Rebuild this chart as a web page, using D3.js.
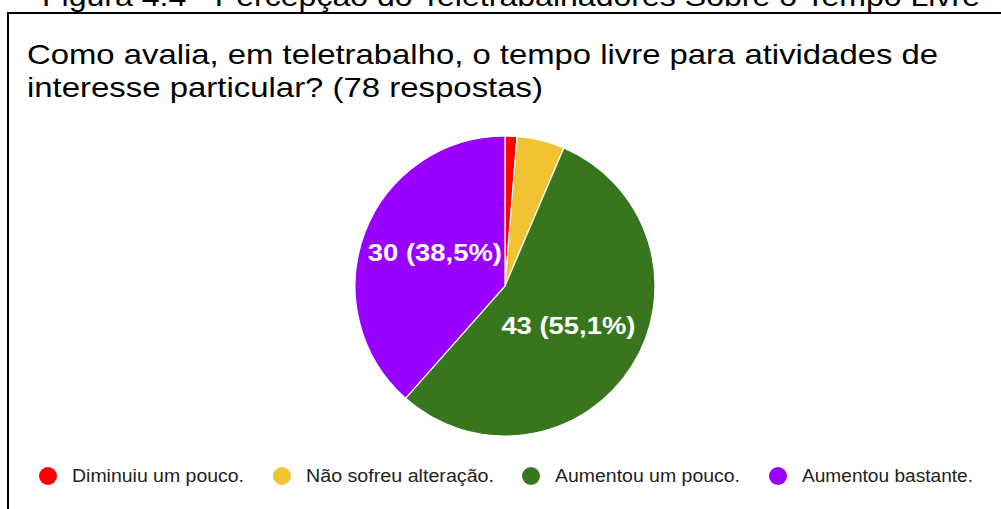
<!DOCTYPE html>
<html>
<head>
<meta charset="utf-8">
<script src="https://cdn.jsdelivr.net/npm/d3@7"></script>
<style>
  body { margin: 0; background: #fff; }
  svg { display: block; font-family: "Liberation Sans", Arial, sans-serif; }
</style>
</head>
<body>
<svg></svg>
<script>
var width = 1001;
var height = 509;

var categories = ["Diminuiu um pouco.", "Não sofreu alteração.", "Aumentou um pouco.", "Aumentou bastante."];
var counts = [1, 4, 43, 30];
var colors = ["#ff0000", "#f1c232", "#38761d", "#9900ff"];
var figureTitle = "Figura 4.4 - Percepção do Teletrabalhadores Sobre o Tempo Livre";
var titleLines = ["Como avalia, em teletrabalho, o tempo livre para atividades de", "interesse particular? (78 respostas)"];

var svg = d3.select("svg")
  .attr("width", width)
  .attr("height", height);

// the source image is stretched sideways, so texts get a fixed length
function stretch(sel, len) {
  sel.attr("textLength", len).attr("lengthAdjust", "spacingAndGlyphs");
}

// figure caption, cut by the top of the image
svg.append("text")
  .attr("x", 42)
  .attr("y", 6)
  .attr("font-size", 28)
  .attr("fill", "#000")
  .text(figureTitle)
  .call(stretch, 938);

// frame
svg.append("path")
  .attr("d", "M8,520 V13 H1001")
  .attr("fill", "none")
  .attr("stroke", "#000")
  .attr("stroke-width", 2);

var titleWidths = [911, 516];
svg.selectAll(".title")
  .data(titleLines)
  .enter()
  .append("text")
  .attr("class", "title")
  .attr("x", 27)
  .attr("y", function(d, i) { return 64 + i * 33; })
  .attr("font-size", 28)
  .attr("fill", "#000")
  .text(function(d) { return d; })
  .each(function(d, i) { d3.select(this).call(stretch, titleWidths[i]); });

var data = categories.map(function(c, i) {
  return { name: c, value: counts[i], color: colors[i] };
});
var total = d3.sum(counts);

var cx = 505, cy = 286, r = 150;

var pie = d3.pie()
  .sort(null)
  .value(function(d) { return d.value; });

var arc = d3.arc().innerRadius(0).outerRadius(r);

var g = svg.append("g").attr("transform", "translate(" + cx + "," + cy + ")");

var arcs = pie(data);

g.selectAll("path")
  .data(arcs)
  .enter()
  .append("path")
  .attr("d", arc)
  .attr("fill", function(d) { return d.data.color; })
  .attr("stroke", "#fff")
  .attr("stroke-width", 1.2);

var labelArc = d3.arc().innerRadius(r * 0.5).outerRadius(r * 0.5);

var fmt = function(v) {
  return (v / total * 100).toFixed(1).replace(".", ",");
};

g.selectAll(".lbl")
  .data(arcs.filter(function(d) { return d.value / total > 0.1; }))
  .enter()
  .append("text")
  .attr("class", "lbl")
  .attr("transform", function(d) {
    var c = labelArc.centroid(d);
    // google pushes the left label a bit up
    if (c[0] < 0) c[1] -= 6;
    return "translate(" + c + ")";
  })
  .attr("text-anchor", "middle")
  .attr("dy", "0.35em")
  .attr("font-size", 23)
  .attr("font-weight", "bold")
  .attr("fill", "#fff")
  .text(function(d) { return d.value + " (" + fmt(d.value) + "%)"; })
  .call(stretch, 134);

// legend
var legendX = [48, 282, 531, 778];
var legendW = [172, 188, 185, 171];
var legend = svg.selectAll(".leg")
  .data(data)
  .enter()
  .append("g")
  .attr("class", "leg")
  .attr("transform", function(d, i) { return "translate(" + legendX[i] + ",476)"; });

legend.append("circle")
  .attr("r", 9)
  .attr("fill", function(d) { return d.color; });

legend.append("text")
  .attr("x", 24)
  .attr("dy", "0.36em")
  .attr("font-size", 17.5)
  .attr("fill", "#222")
  .text(function(d) { return d.name; })
  .each(function(d, i) { d3.select(this).call(stretch, legendW[i]); });
</script>
</body>
</html>
